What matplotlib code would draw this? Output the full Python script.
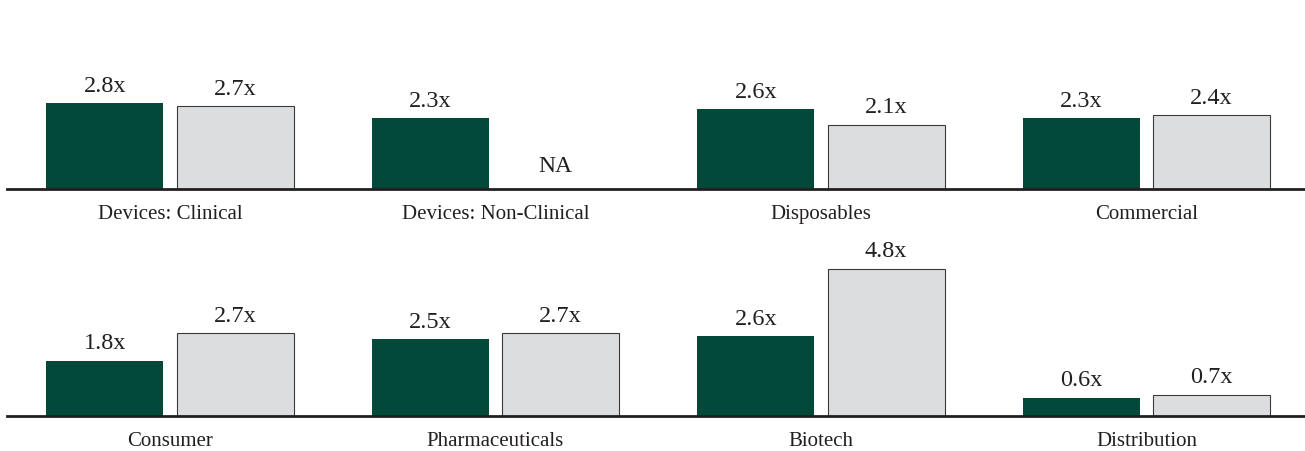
import matplotlib
matplotlib.use("Agg")
import matplotlib.pyplot as plt
import numpy as np

cats_top = ["Devices: Clinical", "Devices: Non-Clinical", "Disposables", "Commercial"]
vals_a_top = [2.8, 2.3, 2.6, 2.3]
vals_b_top = [2.7, None, 2.1, 2.4]   # None -> NA

cats_bot = ["Consumer", "Pharmaceuticals", "Biotech", "Distribution"]
vals_a_bot = [1.8, 2.5, 2.6, 0.6]
vals_b_bot = [2.7, 2.7, 4.8, 0.7]

green = "#02493a"
grey = "#dcdddf"
ink = "#231f20"

plt.rcParams["font.family"] = ["Liberation Serif", "DejaVu Serif"]

fig = plt.figure(figsize=(13.05, 4.51), dpi=100)
W, H = 1305.0, 451.0
px_per_unit = 30.7
ymax = 5.2
h = ymax * px_per_unit / H


def draw_row(ax, cats, va, vb):
    x = np.arange(len(cats))
    off, bw = 0.2, 0.36
    ax.bar(x - off, va, width=bw, color=green, edgecolor="none")
    for xi, v in zip(x, vb):
        if v is not None:
            ax.bar(xi + off, v, width=bw, color=grey, edgecolor="#3a3a3a", linewidth=0.8)
    for xi, v in zip(x, va):
        ax.annotate(f"{v:.1f}x", (xi - off, v), xytext=(0, 4.5), textcoords="offset points",
                    ha="center", va="bottom", fontsize=17.5, color=ink)
    for xi, v in zip(x, vb):
        if v is not None:
            ax.annotate(f"{v:.1f}x", (xi + off, v), xytext=(0, 4.5), textcoords="offset points",
                        ha="center", va="bottom", fontsize=17.5, color=ink)
        else:
            ax.annotate("NA", (xi + off - 0.015, 0), xytext=(0, 9), textcoords="offset points",
                        ha="center", va="bottom", fontsize=17, color=ink)
    ax.set_xlim((7 - 170) / 325.5, (1305 - 170) / 325.5)
    ax.set_ylim(0, ymax)
    ax.set_xticks(x)
    ax.set_xticklabels(cats, fontsize=15, color=ink)
    ax.tick_params(axis="x", length=0, pad=11.5)
    ax.set_yticks([])
    for s in ["top", "left", "right"]:
        ax.spines[s].set_visible(False)
    ax.spines["bottom"].set_linewidth(2.0)
    ax.spines["bottom"].set_color(ink)
    ax.patch.set_alpha(0)


ax1 = fig.add_axes([7 / W, (H - 189) / H, (W - 7) / W, h])
draw_row(ax1, cats_top, vals_a_top, vals_b_top)
ax2 = fig.add_axes([7 / W, (H - 416) / H, (W - 7) / W, h])
draw_row(ax2, cats_bot, vals_a_bot, vals_b_bot)

fig.savefig("out.png", dpi=100)
